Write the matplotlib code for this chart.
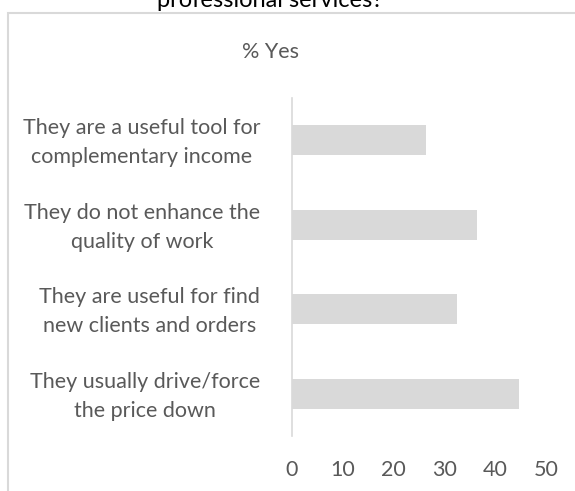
import matplotlib
matplotlib.use("Agg")
import matplotlib.pyplot as plt
from matplotlib.patches import Rectangle
from matplotlib.transforms import ScaledTranslation

plt.rcParams['font.family'] = ['Lato', 'DejaVu Sans']

# survey answers, top to bottom
statements = [
    "They are a useful tool for\ncomplementary income",
    "They do not enhance the\nquality of work",
    "They are useful for find\nnew clients and orders",
    "They usually drive/force\nthe price down",
]
pct_yes = [26.4, 36.5, 32.5, 44.7]
xticks = [0, 10, 20, 30, 40, 50]

grey_txt = '#595959'
grey_bar = '#d9d9d9'

fig = plt.figure(figsize=(5.75, 4.91), dpi=100)
ax = fig.add_axes([0.5078, 0.112, 0.4418, 0.6884])

ypos = list(range(len(statements)))
ax.barh(ypos, pct_yes, height=0.355, color=grey_bar)

ax.set_xlim(0, 50)
ax.set_ylim(3.5, -0.5)
ax.set_xticks(xticks)
ax.set_xticklabels([str(t) for t in xticks], color=grey_txt, fontsize=15.5)
ax.set_yticks(ypos)
ax.set_yticklabels(statements, color=grey_txt, fontsize=15.5,
                   ha='right', multialignment='center', linespacing=1.55)
ax.tick_params(axis='both', length=0)
ax.tick_params(axis='x', pad=17)
ax.tick_params(axis='y', pad=23)

# nudge the two-line labels up a little so they sit level with the bars
lift = ScaledTranslation(0, 0.04, fig.dpi_scale_trans)
for lbl in ax.get_yticklabels():
    lbl.set_transform(lbl.get_transform() + lift)

for side in ['top', 'right', 'bottom']:
    ax.spines[side].set_visible(False)
ax.spines['left'].set_color(grey_bar)
ax.spines['left'].set_linewidth(1.2)

# chart frame, runs off the right and bottom edges
fig.patches.append(Rectangle((8 / 575, -0.2), 1.1, 1.2 - 13 / 491,
                             transform=fig.transFigure, fill=False,
                             edgecolor=grey_bar, linewidth=1.5))

fig.text(271 / 575, 1 - 52 / 491, "% Yes", ha='center', va='center',
         color=grey_txt, fontsize=15.5)
fig.text(270 / 575, 1 - 7 / 491, "professional services?", ha='center',
         va='baseline', color='black', fontsize=17)

fig.savefig("out.png", dpi=100)
